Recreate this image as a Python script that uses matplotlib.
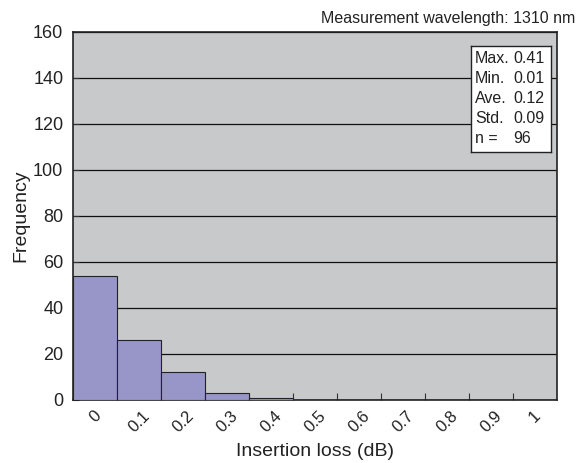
import matplotlib
matplotlib.use("Agg")
import matplotlib.pyplot as plt

plt.rcParams['font.family'] = ['Liberation Sans', 'DejaVu Sans']

categories = ["0", "0.1", "0.2", "0.3", "0.4", "0.5", "0.6", "0.7", "0.8", "0.9", "1"]
frequency = [54, 26, 12, 3, 1, 0, 0, 0, 0, 0, 0]
y_ticks = [0, 20, 40, 60, 80, 100, 120, 140, 160]
stats_labels = ["Max.", "Min.", "Ave.", "Std.", "n ="]
stats_values = ["0.41", "0.01", "0.12", "0.09", "96"]

fig = plt.figure(figsize=(5.78, 4.63), dpi=100)
ax = fig.add_axes([0.1263, 0.1361, 0.8374, 0.7948])
ax.set_facecolor("#c8c9ca")

x = list(range(len(categories)))
ax.bar(x, frequency, width=1.0, color="#9896c8", edgecolor="#222222", linewidth=0.8, zorder=3)

ax.set_xlim(-0.5, len(categories) - 0.5)
ax.set_ylim(0, 160)
ax.set_yticks(y_ticks)
ax.set_yticklabels([str(v) for v in y_ticks], fontsize=13, color="#222222")
ax.yaxis.grid(True, color="#111111", linewidth=0.9, zorder=1)
ax.set_axisbelow(True)

ax.set_xticks([i + 0.5 for i in x[:-1]])
ax.set_xticklabels([])
ax.set_xticks(x, minor=True)
ax.set_xticklabels(categories, minor=True, rotation=45, ha="center", va="top",
                   fontsize=12, color="#222222")
ax.tick_params(axis="x", which="minor", length=0, pad=6)
ax.tick_params(axis="x", which="major", direction="in", length=5, color="#333333")
ax.tick_params(axis="y", direction="in", length=4, color="#333333", pad=7)

for s in ax.spines.values():
    s.set_linewidth(1.2)
    s.set_color("#222222")

ax.set_xlabel("Insertion loss (dB)", fontsize=14, color="#222222")
ax.xaxis.set_label_coords(0.5, -0.118)
ax.set_ylabel("Frequency", fontsize=14, color="#222222")
ax.yaxis.set_label_coords(-0.09, 0.5)

fig.text(0.995, 0.961, "Measurement wavelength: 1310 nm", ha="right", va="center",
         fontsize=11.5, color="#222222")

box_ax = fig.add_axes([471/578, 1 - 152/463, 80/578, 106/463])
box_ax.set_xticks([]); box_ax.set_yticks([])
box_ax.set_facecolor("white")
for s in box_ax.spines.values():
    s.set_linewidth(1.0)
    s.set_color("#222222")
box_ax.set_xlim(0, 1); box_ax.set_ylim(0, 1)
for i, (l, v) in enumerate(zip(stats_labels, stats_values)):
    yy = 0.885 - i * 0.19
    box_ax.text(0.05, yy, l, ha="left", va="center", fontsize=11.5, color="#222222")
    box_ax.text(0.53, yy, v, ha="left", va="center", fontsize=11.5, color="#222222")

fig.savefig("out.png", dpi=100)
